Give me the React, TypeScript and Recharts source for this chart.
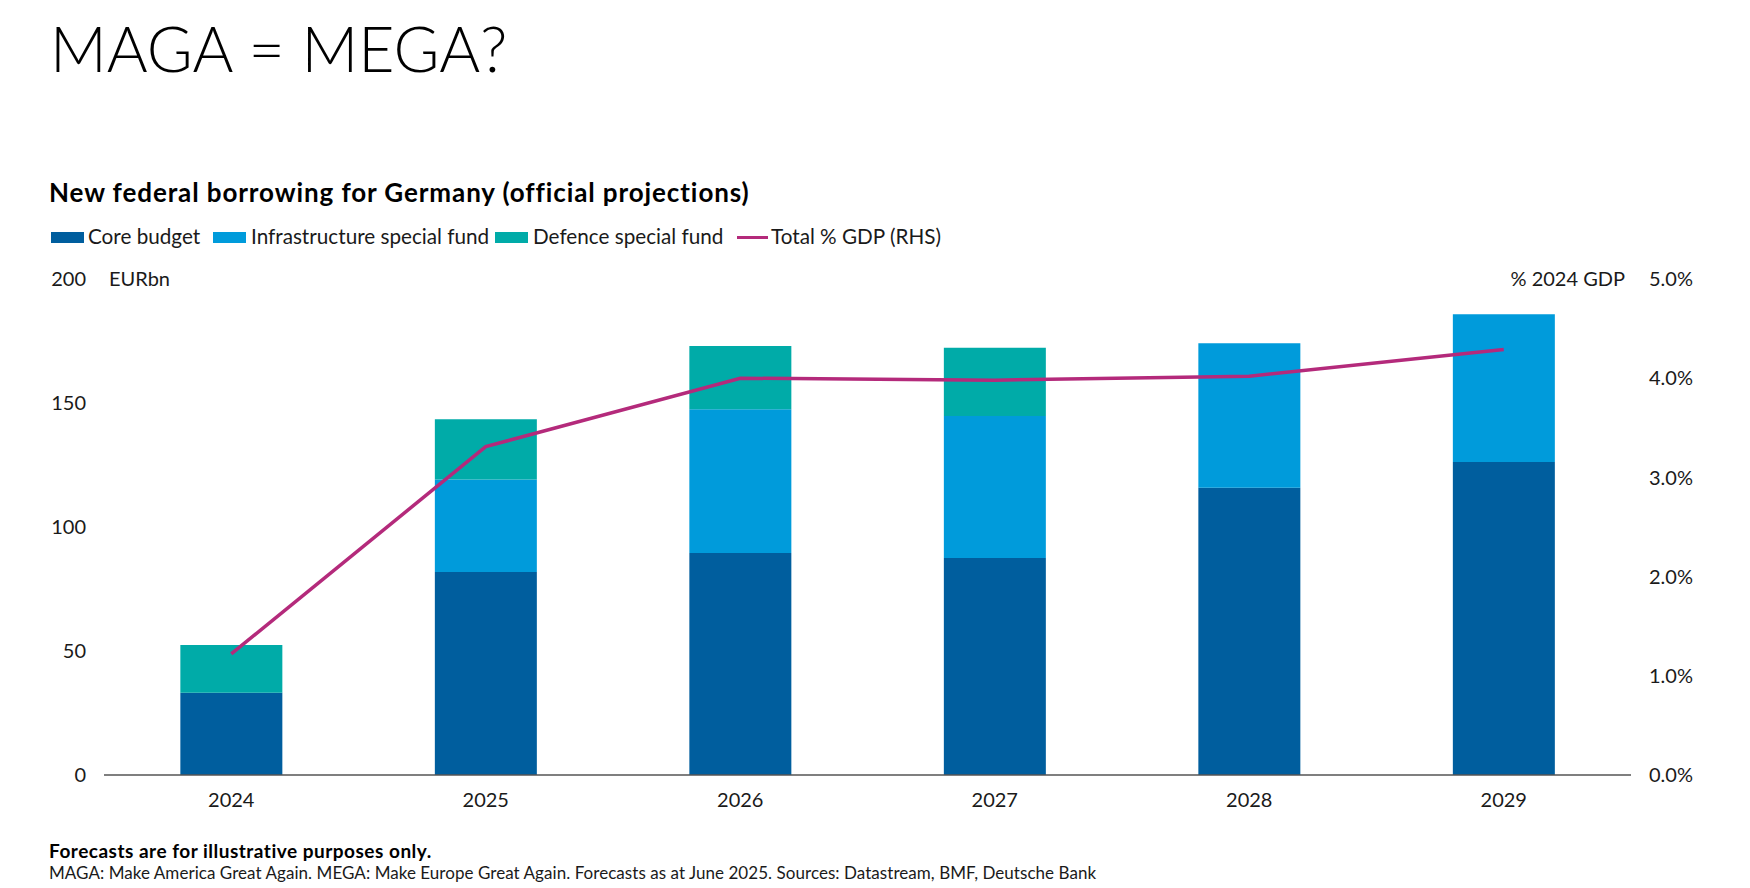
import React from 'react';
import { ComposedChart, Bar, Line, XAxis, YAxis } from 'recharts';

if (typeof document !== 'undefined') {
  document.body.style.margin = '0';
}

// Federal borrowing by year, EUR bn
const years = ['2024', '2025', '2026', '2027', '2028', '2029'];
const coreBudget = [33.2, 81.9, 89.5, 87.5, 115.8, 126.2];
const infrastructureFund = [0, 37.3, 58.0, 57.3, 58.3, 59.6];
const defenceFund = [19.2, 24.2, 25.5, 27.5, 0, 0];
// Total borrowing as % of 2024 GDP (right-hand scale)
const totalGdpPct = [1.22, 3.31, 4.0, 3.98, 4.02, 4.29];

const eurTicks = [0, 50, 100, 150, 200];
const pctTicks = [0, 1, 2, 3, 4, 5];

const COLORS = {
  core: '#005E9E',
  infra: '#009BDB',
  defence: '#00ABA8',
  line: '#B42A7B',
  axis: '#555555',
  text: '#1a1a1a',
};

const FONT = 'Lato, "Noto Sans", sans-serif';

const data = years.map((year, i) => ({
  year,
  core: coreBudget[i],
  infra: infrastructureFund[i],
  defence: defenceFund[i],
  gdp: totalGdpPct[i],
}));

const legendItems = [
  { label: 'Core budget', color: COLORS.core, kind: 'box', sx: 51, tx: 88 },
  { label: 'Infrastructure special fund', color: COLORS.infra, kind: 'box', sx: 213, tx: 251 },
  { label: 'Defence special fund', color: COLORS.defence, kind: 'box', sx: 495, tx: 533 },
  { label: 'Total % GDP (RHS)', color: COLORS.line, kind: 'line', sx: 737, tx: 771 },
];

const tickStyle = { fontFamily: FONT, fontSize: 20, fill: COLORS.text };

export default function App() {
  return (
    <div style={{ position: 'relative', width: 1750, height: 888, background: '#fff', fontFamily: FONT, overflow: 'hidden' }}>
      <svg width={1750} height={888} style={{ position: 'absolute', left: 0, top: 0 }}>
        <text x={50} y={72} fontFamily={FONT} fontWeight={300} fontSize={62.5} fill="#000">
          MAGA = MEGA?
        </text>
        <text x={49} y={202} fontFamily={FONT} fontWeight={700} fontSize={26} letterSpacing={0.9} fill="#000">
          New federal borrowing for Germany (official projections)
        </text>
        {legendItems.map((item) =>
          <g key={item.label}>
            {item.kind === 'box' ? (
              <rect x={item.sx} y={232} width={33} height={11} fill={item.color} />
            ) : (
              <rect x={item.sx} y={236} width={31} height={3} fill={item.color} />
            )}
            <text x={item.tx} y={244} fontFamily={FONT} fontSize={20.7} fill={COLORS.text}>
              {item.label}
            </text>
          </g>
        )}
        <text x={109} y={286} fontFamily={FONT} fontSize={20} fill={COLORS.text}>EURbn</text>
        <text x={1625} y={286} textAnchor="end" fontFamily={FONT} fontSize={20} fill={COLORS.text}>% 2024 GDP</text>
        <text x={49} y={858} fontFamily={FONT} fontWeight={700} fontSize={19} letterSpacing={0.5} fill="#000">
          Forecasts are for illustrative purposes only.
        </text>
        <text x={49} y={879} fontFamily={FONT} fontSize={17} letterSpacing={0.05} fill={COLORS.text}>
          MAGA: Make America Great Again. MEGA: Make Europe Great Again. Forecasts as at June 2025. Sources: Datastream, BMF, Deutsche Bank
        </text>
      </svg>
      <div style={{ position: 'absolute', left: 0, top: 260 }}>
        <ComposedChart
          width={1750}
          height={560}
          data={data}
          margin={{ top: 19, right: 0, bottom: 5, left: 0 }}
          barCategoryGap="30%"
        >
          <XAxis
            dataKey="year"
            tickLine={false}
            tickSize={0}
            tickMargin={18}
            axisLine={{ stroke: COLORS.axis, strokeWidth: 1.5 }}
            tick={tickStyle}
            height={40}
          />
          <YAxis
            yAxisId="eur"
            orientation="left"
            width={104}
            domain={[0, 200]}
            ticks={eurTicks}
            tickLine={false}
            axisLine={false}
            tickSize={0}
            tickMargin={18}
            tick={tickStyle}
          />
          <YAxis
            yAxisId="pct"
            orientation="right"
            width={119}
            domain={[0, 5]}
            ticks={pctTicks}
            tickFormatter={(v: number) => `${v.toFixed(1)}%`}
            tickLine={false}
            axisLine={false}
            tickSize={0}
            tickMargin={18}
            tick={tickStyle}
          />
          <Bar yAxisId="eur" dataKey="core" stackId="borrowing" fill={COLORS.core} isAnimationActive={false} />
          <Bar yAxisId="eur" dataKey="infra" stackId="borrowing" fill={COLORS.infra} isAnimationActive={false} />
          <Bar yAxisId="eur" dataKey="defence" stackId="borrowing" fill={COLORS.defence} isAnimationActive={false} />
          <Line
            yAxisId="pct"
            type="linear"
            dataKey="gdp"
            stroke={COLORS.line}
            strokeWidth={3.5}
            dot={false}
            activeDot={false}
            isAnimationActive={false}
          />
        </ComposedChart>
      </div>
    </div>
  );
}
